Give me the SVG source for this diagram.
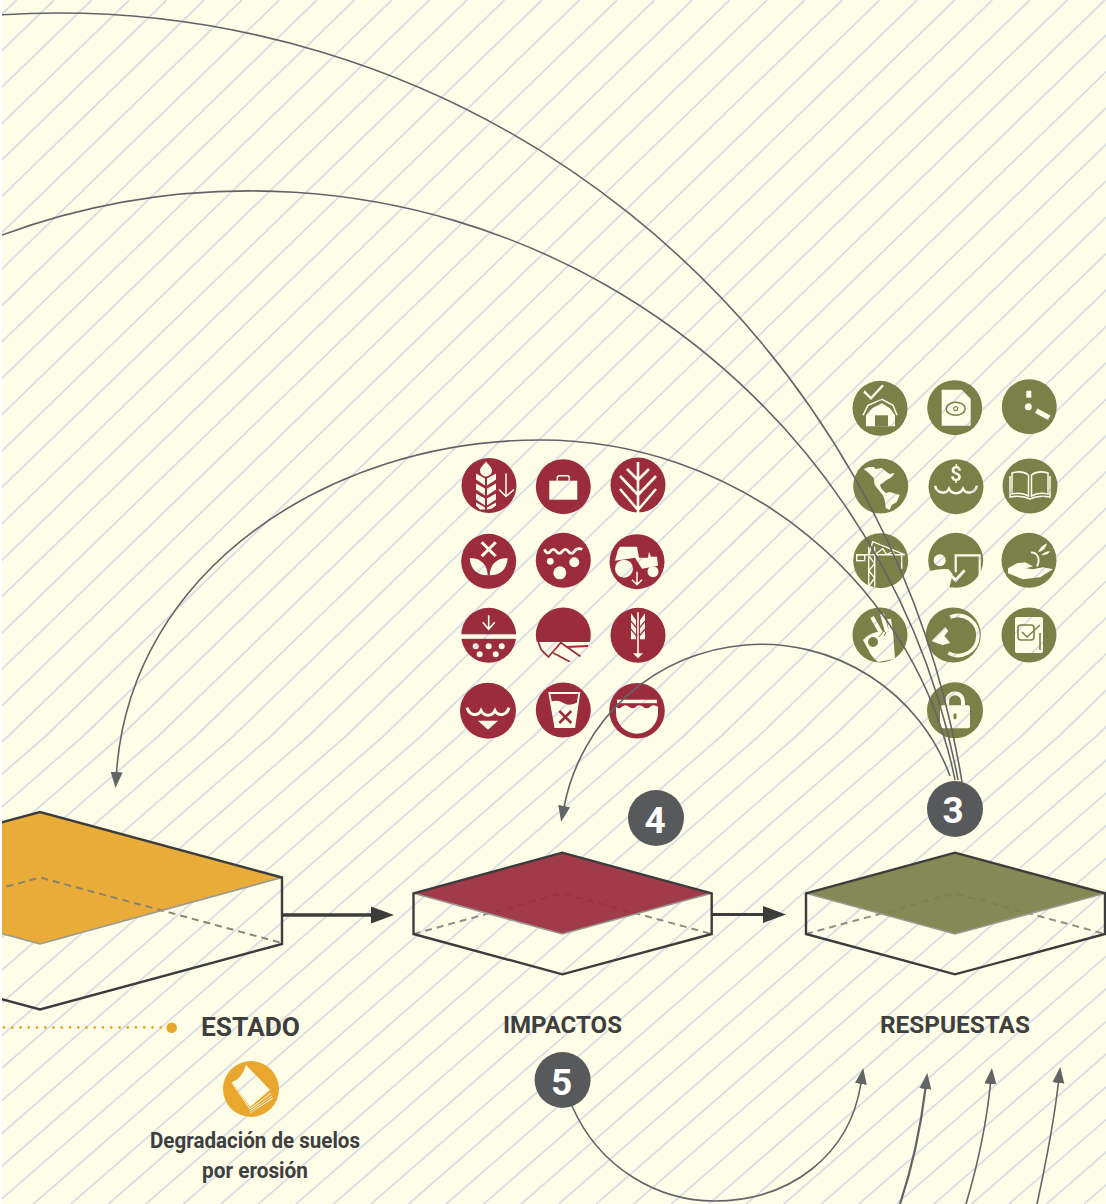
<svg xmlns="http://www.w3.org/2000/svg" width="1106" height="1204" viewBox="0 0 1106 1204">
<style>
text{font-family:Roboto,"Liberation Sans",sans-serif}
.lab{fill:#3f3f40;font-weight:700}
.num{fill:#fff;font-weight:700;font-size:37px;text-anchor:middle}
.dc{fill:#58595b}
.red{fill:#9b2c3c}.grn{fill:#7b8049}.yel{fill:#e9a72e}
.edge{fill:none;stroke:#3c3c3b;stroke-width:2.4;stroke-linejoin:miter}
.low{fill:none;stroke:#9a9a90;stroke-width:1.6}
.dash{fill:none;stroke:#8f8f84;stroke-width:2;stroke-dasharray:7 5}
.cur{fill:none;stroke:#636466;stroke-width:1.6}
.hd{marker-end:url(#ah)}
.flow{stroke:#3c3c3b;stroke-width:3.4;fill:none}
.k{fill:#000;stroke:none}.kl{fill:none;stroke:#000}
.w{fill:#fff;stroke:none}.wl{fill:none;stroke:#fff}
</style>
<defs>
<clipPath id="page"><rect x="2" y="0" width="1104" height="1204"/></clipPath>
<marker id="ah" markerUnits="userSpaceOnUse" markerWidth="18" markerHeight="14" refX="1" refY="7" orient="auto"><path d="M0,1 L16,7 L0,13Z" fill="#636466"/></marker>
<path id="wave3" d="M-21,-3C-19,5 -10,6 -7,0C-4,6 4,6 7,0C10,6 19,5 21,-3"/>
<mask id="cut" maskUnits="userSpaceOnUse" x="0" y="0" width="1106" height="1204">
<rect width="1106" height="1204" fill="#fff"/>
<g transform="translate(489,485.5)">
<path class="k" d="M-3,-24C0,-20 3,-18 3,-15A6,6 0 0 1 -9,-15C-9,-18 -6,-20 -3,-24Z"/>
<path class="k" d="M-13,-12L-4,-7V0L-13,-6ZM-13,-2L-4,3V10L-13,4ZM-13,8L-4,13V20L-13,14ZM-13,17L-4,22V24L-9,24L-13,20ZM7,-12L-2,-7V0L7,-6ZM7,-2L-2,3V10L7,4ZM7,8L-2,13V20L7,14ZM7,17L-2,22V24L3,23L7,20Z"/>
<path class="kl" stroke-width="1.5" d="M17,-12V11M10,4L17,11L25,4"/>
</g>
<g transform="translate(563.3,486.7)">
<rect class="k" x="-14" y="-6" width="28" height="19"/>
<path class="kl" stroke-width="1.5" d="M-6,-6V-9Q-6,-11 -4,-11H4Q6,-11 6,-9V-6"/>
</g>
<g transform="translate(638,485)">
<path class="kl" stroke-width="2.6" d="M0,-23V28M0,-5L-11,-16M0,-5L11,-16M0,10L-18,-9M0,10L18,-9M0,25L-18,4M0,25L18,4"/>
</g>
<g transform="translate(488.7,561.3)">
<path class="kl" stroke-width="3" d="M-7,-19L7,-5M7,-19L-7,-5"/>
<path class="k" d="M-19,-3C-8,-4 -1,4 -1,14C-12,14 -18,8 -19,-3ZM19,-3C8,-4 1,4 1,14C12,14 18,8 19,-3Z"/>
</g>
<g transform="translate(563.3,560.3)">
<path class="kl" stroke-width="2.800" d="M-19,-11Q-16,-5 -13,-9T-7,-9T-1,-9T5,-9T11,-9T19,-11"/>
<circle class="k" cx="-13" cy="1" r="3.4"/><circle class="k" cx="11" cy="2" r="5"/><circle class="k" cx="-3.500" cy="12.500" r="6.500"/>
</g>
<g transform="translate(637,561.7)">
<path class="k" d="M-17,-15L0,-15L2,-4L11,-4L12,-10L14,-5L20,-5L21,4L5,7L-2,-4L-22,-1L-19,-12Z"/>
<circle class="k" cx="-13" cy="7" r="9"/><circle class="k" cx="16" cy="10" r="5.5"/>
<path class="kl" stroke-width="1.5" d="M0,10V23M-5,18L0,23L5,18"/>
</g>
<g transform="translate(488.700,635.300)">
<rect class="k" x="-30" y="-1" width="60" height="4.500"/>
<path class="kl" stroke-width="1.6" d="M0,-20V-7M-6,-13L0,-6L6,-13"/>
<circle class="k" cx="-13" cy="11" r="3"/><circle class="k" cx="0" cy="11" r="3"/><circle class="k" cx="13" cy="11" r="3"/><circle class="k" cx="-9" cy="19" r="3"/><circle class="k" cx="7" cy="19" r="3"/>
</g>
<g transform="translate(563.3,635)">
<rect class="k" x="-30" y="7" width="60" height="24"/>
<path class="wl" stroke-width="1.800" d="M-25,7L-22,15L-15,22L-7,13L-2,7M-10,18L7,27M-2,8L18,22M3,12L25,11"/>
</g>
<g transform="translate(638,635.3)">
<path class="kl" stroke-width="1.6" d="M0,-23V19"/>
<path class="k" d="M-5,18L0,23L5,18ZM-7,-22L-2,-15V-9L-7,-15ZM-7,-13L-2,-7V-1L-7,-7ZM-7,-5L-2,1V4L-7,4ZM7,-22L2,-15V-9L7,-15ZM7,-13L2,-7V-1L7,-7ZM7,-5L2,1V4L7,4Z"/>
</g>
<g transform="translate(488,710.700)">
<use href="#wave3" class="kl" stroke-width="3"/>
<path class="k" d="M-10,10L10,10L0,19Z"/>
</g>
<g transform="translate(563.3,710)">
<path class="kl" stroke-width="1.800" d="M-14,-17H16L11,17H-8Z"/>
<path class="k" d="M-13,-8Q-6,-11 0,-7T15,-8L11,17H-8Z"/>
<path class="wl" stroke-width="2.500" d="M-4,1L8,13M8,1L-4,13"/>
</g>
<g transform="translate(637,710.700)">
<rect class="k" x="-20" y="-11" width="40" height="3.500"/>
<path class="k" d="M-21,-4Q-18,-1 -15,-4T-8,-4T-1,-4T6,-4T13,-4T21,-4V2A21,21 0 0 1 -21,2Z"/>
</g>
<g transform="translate(880,408.300)">
<path class="kl" stroke-width="2.400" d="M-16,-17L-9,-10L3,-23"/>
<path class="kl" stroke-width="1.500" d="M-17,7L-12,-3L2,-9L13,-3L17,7"/>
<path class="k" d="M-14,18V7L-8,0L2,-5L10,0L15,7V18Z"/>
<rect class="w" x="-5" y="7" width="13" height="11"/>
</g>
<g transform="translate(954.700,407.700)">
<path class="k" d="M-13,-18H7L16,-9V18H-13Z"/>
<ellipse class="wl" stroke-width="1.500" cx="1" cy="1" rx="9.500" ry="6.500"/>
<circle class="wl" stroke-width="1.200" cx="1" cy="1" r="2"/>
</g>
<g transform="translate(1029.300,406.700)">
<circle class="k" cx="-1" cy="0" r="3.500"/>
<rect class="k" x="-3" y="-16" width="5" height="7"/>
<path class="kl" stroke-width="5" d="M7,4L20,11"/>
</g>
<g transform="translate(880.700,486)">
<path class="k" d="M-17,-17L-12,-19L-7,-19L-5,-17L1,-18L6,-14L9,-12L14,-13L11,-9L6,-6L2,-3L-1,-1L1,3L5,7L9,6L19,9L16,16L11,19L9,24L5,22L4,14L2,9L-2,4L-6,-1L-7,-8L-12,-13Z"/>
</g>
<g transform="translate(956,486.700)">
<text x="0" y="-6" font-size="20" font-weight="700" text-anchor="middle" fill="#000">$</text>
<use href="#wave3" y="2" class="kl" stroke-width="2.500"/>
</g>
<g transform="translate(1030,486)">
<path class="kl" stroke-width="1.500" d="M-18,-13Q-8,-16 -1.500,-11V10Q-8,6 -18,8ZM18,-13Q8,-16 1.500,-11V10Q8,6 18,8ZM-20,-10V11Q-8,9 0,13Q8,9 20,11V-10"/>
</g>
<g transform="translate(880.700,560.700)">
<path class="kl" stroke-width="1.400" d="M-12,-14V26M-6,-14V26M-12,-5L-6,3L-12,10L-6,17L-12,26M-24,-6H24L-8,-19L-12,-6M-6,-6L2,-12L6,-6L12,-9L14,-6M21,-5V8"/>
<rect class="kl" stroke-width="1.400" x="-24" y="-6" width="8" height="6"/>
</g>
<g transform="translate(955.700,560.300)">
<circle class="k" cx="-16" cy="0" r="6"/>
<path class="k" d="M-27,11Q-15,8 -7,9L-3,14L-7,30H-32Z"/>
<path class="kl" stroke-width="2.200" d="M0,12V-5H24V28"/>
<path class="kl" stroke-width="3" d="M-4,16L0,20L9,10"/>
</g>
<g transform="translate(1029,560.300)">
<path class="k" d="M-21,8L-12,3L-4,2L4,6L-3,8L4,9L14,7L24,9L11,17L-6,19L-21,13Z"/>
<path class="kl" stroke-width="1.800" d="M8,6C12,-2 8,-8 2,-8"/>
<path class="k" d="M9,-8Q11,-14 18,-17Q17,-10 9,-8ZM12,-5Q16,-9 21,-9Q19,-5 12,-5Z"/>
</g>
<g transform="translate(880,635)">
<path class="k" d="M-17,5Q-12,-1 -3,-3L13,-3L15,24L-2,27Q-8,22 -10,18Z"/>
<path class="kl" stroke-width="4" d="M-8,-18L1,-2M2,-21L7,-3M9,-16L11,-3"/>
<circle class="w" cx="-7" cy="7" r="5"/>
<path class="wl" stroke-width="1" d="M-1,2L3,-3M4,1L6,-3"/>
</g>
<g transform="translate(953.300,635)">
<path class="kl" stroke-width="3.600" d="M-3,-18A20,20 0 1 1 -5,18"/>
<path class="k" d="M-22,6L-8,-8L-5,-4L-9,1L-3,8L-11,10Z"/>
</g>
<g transform="translate(1029,635)">
<rect class="k" x="-14" y="-18" width="28" height="36" rx="2"/>
<rect class="wl" stroke-width="1.600" x="-11" y="-10" width="16" height="15" rx="3"/>
<path class="wl" stroke-width="1.600" d="M-7,-3L-2,2L11,-10M11,-2V15"/>
</g>
<g transform="translate(955,710.300)">
<rect class="k" x="-15" y="-5" width="30" height="23" rx="2"/>
<path class="kl" stroke-width="4" d="M-8,-5V-9A8,8 0 0 1 8,-9V-5"/>
<rect class="w" x="-1.500" y="3" width="3" height="6" rx="1.500"/>
</g>
<g transform="translate(251,1089)">
<path class="k" d="M-19,-7Q-9,-10 -5,-24L19,1L-1,18Z"/>
<path class="kl" stroke-width="1" d="M-19,-6L-1,20L20,4M-1,22L21,7M-1,24L22,9"/>
</g>
</mask>
</defs>
<g clip-path="url(#page)">
<rect id="background" x="0" y="0" width="1106" height="1204" fill="#fefee8"/>
<path id="stripes" fill="none" stroke="#dadde4" stroke-width="1.800" d="M-20.9,0l-758.8,736l-537.9,468m1334.226,-1204l-758.8,736l-537.9,468m1334.226,-1204l-758.8,736l-537.9,468m1334.226,-1204l-758.8,736l-537.9,468m1334.226,-1204l-758.8,736l-537.9,468m1334.226,-1204l-758.8,736l-537.9,468m1334.226,-1204l-758.8,736l-537.9,468m1334.226,-1204l-758.8,736l-537.9,468m1334.226,-1204l-758.8,736l-537.9,468m1334.226,-1204l-758.8,736l-537.9,468m1334.226,-1204l-758.8,736l-537.9,468m1334.226,-1204l-758.8,736l-537.9,468m1334.226,-1204l-758.8,736l-537.9,468m1334.226,-1204l-758.8,736l-537.9,468m1334.226,-1204l-758.8,736l-537.9,468m1334.226,-1204l-758.8,736l-537.9,468m1334.226,-1204l-758.8,736l-537.9,468m1334.226,-1204l-758.8,736l-537.9,468m1334.226,-1204l-758.8,736l-537.9,468m1334.226,-1204l-758.8,736l-537.9,468m1334.226,-1204l-758.8,736l-537.9,468m1334.226,-1204l-758.8,736l-537.9,468m1334.226,-1204l-758.8,736l-537.9,468m1334.226,-1204l-758.8,736l-537.9,468m1334.226,-1204l-758.8,736l-537.9,468m1334.226,-1204l-758.8,736l-537.9,468m1334.226,-1204l-758.8,736l-537.9,468m1334.226,-1204l-758.8,736l-537.9,468m1334.226,-1204l-758.8,736l-537.9,468m1334.226,-1204l-758.8,736l-537.9,468m1334.226,-1204l-758.8,736l-537.9,468m1334.226,-1204l-758.8,736l-537.9,468m1334.226,-1204l-758.8,736l-537.9,468m1334.226,-1204l-758.8,736l-537.9,468m1334.226,-1204l-758.8,736l-537.9,468m1334.226,-1204l-758.8,736l-537.9,468m1334.226,-1204l-758.8,736l-537.9,468m1334.226,-1204l-758.8,736l-537.9,468m1334.226,-1204l-758.8,736l-537.9,468m1334.226,-1204l-758.8,736l-537.9,468m1334.226,-1204l-758.8,736l-537.9,468m1334.226,-1204l-758.8,736l-537.9,468m1334.226,-1204l-758.8,736l-537.9,468m1334.226,-1204l-758.8,736l-537.9,468m1334.226,-1204l-758.8,736l-537.9,468m1334.226,-1204l-758.8,736l-537.9,468m1334.226,-1204l-758.8,736l-537.9,468m1334.226,-1204l-758.8,736l-537.9,468m1334.226,-1204l-758.8,736l-537.9,468m1334.226,-1204l-758.8,736l-537.9,468m1334.226,-1204l-758.8,736l-537.9,468m1334.226,-1204l-758.8,736l-537.9,468m1334.226,-1204l-758.8,736l-537.9,468m1334.226,-1204l-758.8,736l-537.9,468m1334.226,-1204l-758.8,736l-537.9,468m1334.226,-1204l-758.8,736l-537.9,468m1334.226,-1204l-758.8,736l-537.9,468m1334.226,-1204l-758.8,736l-537.9,468m1334.226,-1204l-758.8,736l-537.9,468m1334.226,-1204l-758.8,736l-537.9,468m1334.226,-1204l-758.8,736l-537.9,468m1334.226,-1204l-758.8,736l-537.9,468m1334.226,-1204l-758.8,736l-537.9,468m1334.226,-1204l-758.8,736l-537.9,468m1334.226,-1204l-758.8,736l-537.9,468m1334.226,-1204l-758.8,736l-537.9,468"/>

<g id="box-estado">
<path class="yel" fill-opacity=".94" d="M40,812L282,877.500L40,944L-202,877.500Z"/>
<path class="dash" style="stroke:#8a8570" d="M-202,943L40,877.500L282,943"/>
<path class="low" d="M-202,877.500L40,944L282,877.500"/>
<path class="edge" d="M-202,877.500L40,812L282,877.500V944L40,1009.500L-202,944"/>
</g>
<g id="box-impactos">
<path class="dash" d="M413.500,934L562.300,893.300L711.700,934"/>
<path class="red" fill-opacity=".93" d="M562.300,852.700L711.700,893.300L562.300,934L413.500,893.300Z"/>
<path class="low" d="M413.500,893.300L562.300,934L711.700,893.300"/>
<path class="edge" d="M413.500,893.300L562.300,852.700L711.700,893.300V934L562.300,974.300L413.500,934Z"/>
</g>
<g id="box-respuestas">
<path class="dash" d="M806,934L955,893.300L1105,934"/>
<path class="grn" fill-opacity=".93" d="M955,852.700L1105,893.300L955,934L806,893.300Z"/>
<path class="low" d="M806,893.300L955,934L1105,893.300"/>
<path class="edge" d="M806,893.300L955,852.700L1105,893.300V934L955,974.300L806,934Z"/>
</g>

<g id="icons" mask="url(#cut)">
<g id="impact-icons" class="red">
<g id="i-r1"><circle cx="489" cy="485.500" r="27.500"/></g>
<g id="i-r2"><circle cx="563.300" cy="486.700" r="27.500"/></g>
<g id="i-r3"><circle cx="638" cy="485" r="27.500"/></g>
<g id="i-r4"><circle cx="488.700" cy="561.300" r="27.500"/></g>
<g id="i-r5"><circle cx="563.300" cy="560.300" r="27.500"/></g>
<g id="i-r6"><circle cx="637" cy="561.700" r="27.500"/></g>
<g id="i-r7"><circle cx="488.700" cy="635.300" r="27.500"/></g>
<g id="i-r8"><circle cx="563.300" cy="635" r="27.500"/></g>
<g id="i-r9"><circle cx="638" cy="635.300" r="27.500"/></g>
<g id="i-r10"><circle cx="488" cy="710.700" r="28"/></g>
<g id="i-r11"><circle cx="563.300" cy="710" r="27.500"/></g>
<g id="i-r12"><circle cx="637" cy="710.700" r="27.800"/></g>
</g>
<g id="response-icons" class="grn">
<g id="i-g1"><circle cx="880" cy="408.300" r="27.500"/></g>
<g id="i-g2"><circle cx="954.700" cy="407.700" r="27.500"/></g>
<g id="i-g3"><circle cx="1029.300" cy="406.700" r="27.500"/></g>
<g id="i-g4"><circle cx="880.700" cy="486" r="27.500"/></g>
<g id="i-g5"><circle cx="956" cy="486.700" r="27.500"/></g>
<g id="i-g6"><circle cx="1030" cy="486" r="27.500"/></g>
<g id="i-g7"><circle cx="880.700" cy="560.700" r="27.500"/></g>
<g id="i-g8"><circle cx="955.700" cy="560.300" r="27.500"/></g>
<g id="i-g9"><circle cx="1029" cy="560.300" r="27.500"/></g>
<g id="i-g10"><circle cx="880" cy="635" r="27.500"/></g>
<g id="i-g11"><circle cx="953.300" cy="635" r="27.500"/></g>
<g id="i-g12"><circle cx="1029" cy="635" r="27.500"/></g>
<g id="i-g13"><circle cx="955" cy="710.300" r="28"/></g>
</g>
<g id="i-y1" class="yel"><circle cx="251" cy="1089" r="28"/></g>
</g>

<g id="connectors">
<path class="cur" d="M2,14.700A917,917 0 0 1 962,782"/>
<path class="cur" d="M2,235A720,720 0 0 1 958,780"/>
<path class="cur hd" d="M955,780A423,423 0 0 0 540,440C330,440 130,570 116.500,773"/>
<path class="cur hd" d="M950,776A201,201 0 0 0 564,807"/>
<path class="cur hd" d="M572,1106C600,1170 660,1201 714.500,1201C790,1201 850,1155 861,1083"/>
<path class="cur hd" style="stroke-width:2.200" d="M900,1204Q918,1150 925.500,1088"/>
<path class="cur hd" d="M966,1204Q985,1140 990.500,1083"/>
<path class="cur hd" d="M1037,1204Q1053,1130 1058.500,1082"/>
<path class="flow" d="M282,915H372"/>
<path fill="#3c3c3b" d="M371,906.500L394,915L371,923.500Z"/>
<path class="flow" style="stroke-width:3" d="M712,914.500H764"/>
<path fill="#3c3c3b" d="M763,906L786,914.500L763,923Z"/>
<path d="M4,1027.500H165" fill="none" stroke="#e9a72e" stroke-width="2.800" stroke-linecap="round" stroke-dasharray="0 8.250"/>
<circle cx="171.700" cy="1027.700" r="5.300" fill="#e9a72e"/>
</g>

<g id="badge-3"><circle class="dc" cx="955" cy="809" r="28"/><text class="num" x="953" y="823">3</text></g>
<g id="badge-4"><circle class="dc" cx="656" cy="818" r="28"/><text class="num" x="655" y="833">4</text></g>
<g id="badge-5"><circle class="dc" cx="562.600" cy="1080" r="28"/><text class="num" x="561.500" y="1095">5</text></g>

<g id="labels">
<text class="lab" x="201" y="1036" font-size="26" textLength="99" lengthAdjust="spacingAndGlyphs">ESTADO</text>
<text class="lab" x="503" y="1033" font-size="23" font-weight="500" textLength="119" lengthAdjust="spacingAndGlyphs">IMPACTOS</text>
<text class="lab" x="880" y="1033" font-size="23" textLength="150" lengthAdjust="spacingAndGlyphs">RESPUESTAS</text>
<text class="lab" x="150" y="1148" font-size="22" textLength="210" lengthAdjust="spacingAndGlyphs">Degradación de suelos</text>
<text class="lab" x="202" y="1178" font-size="22" textLength="106" lengthAdjust="spacingAndGlyphs">por erosión</text>
</g>
</g>
</svg>
